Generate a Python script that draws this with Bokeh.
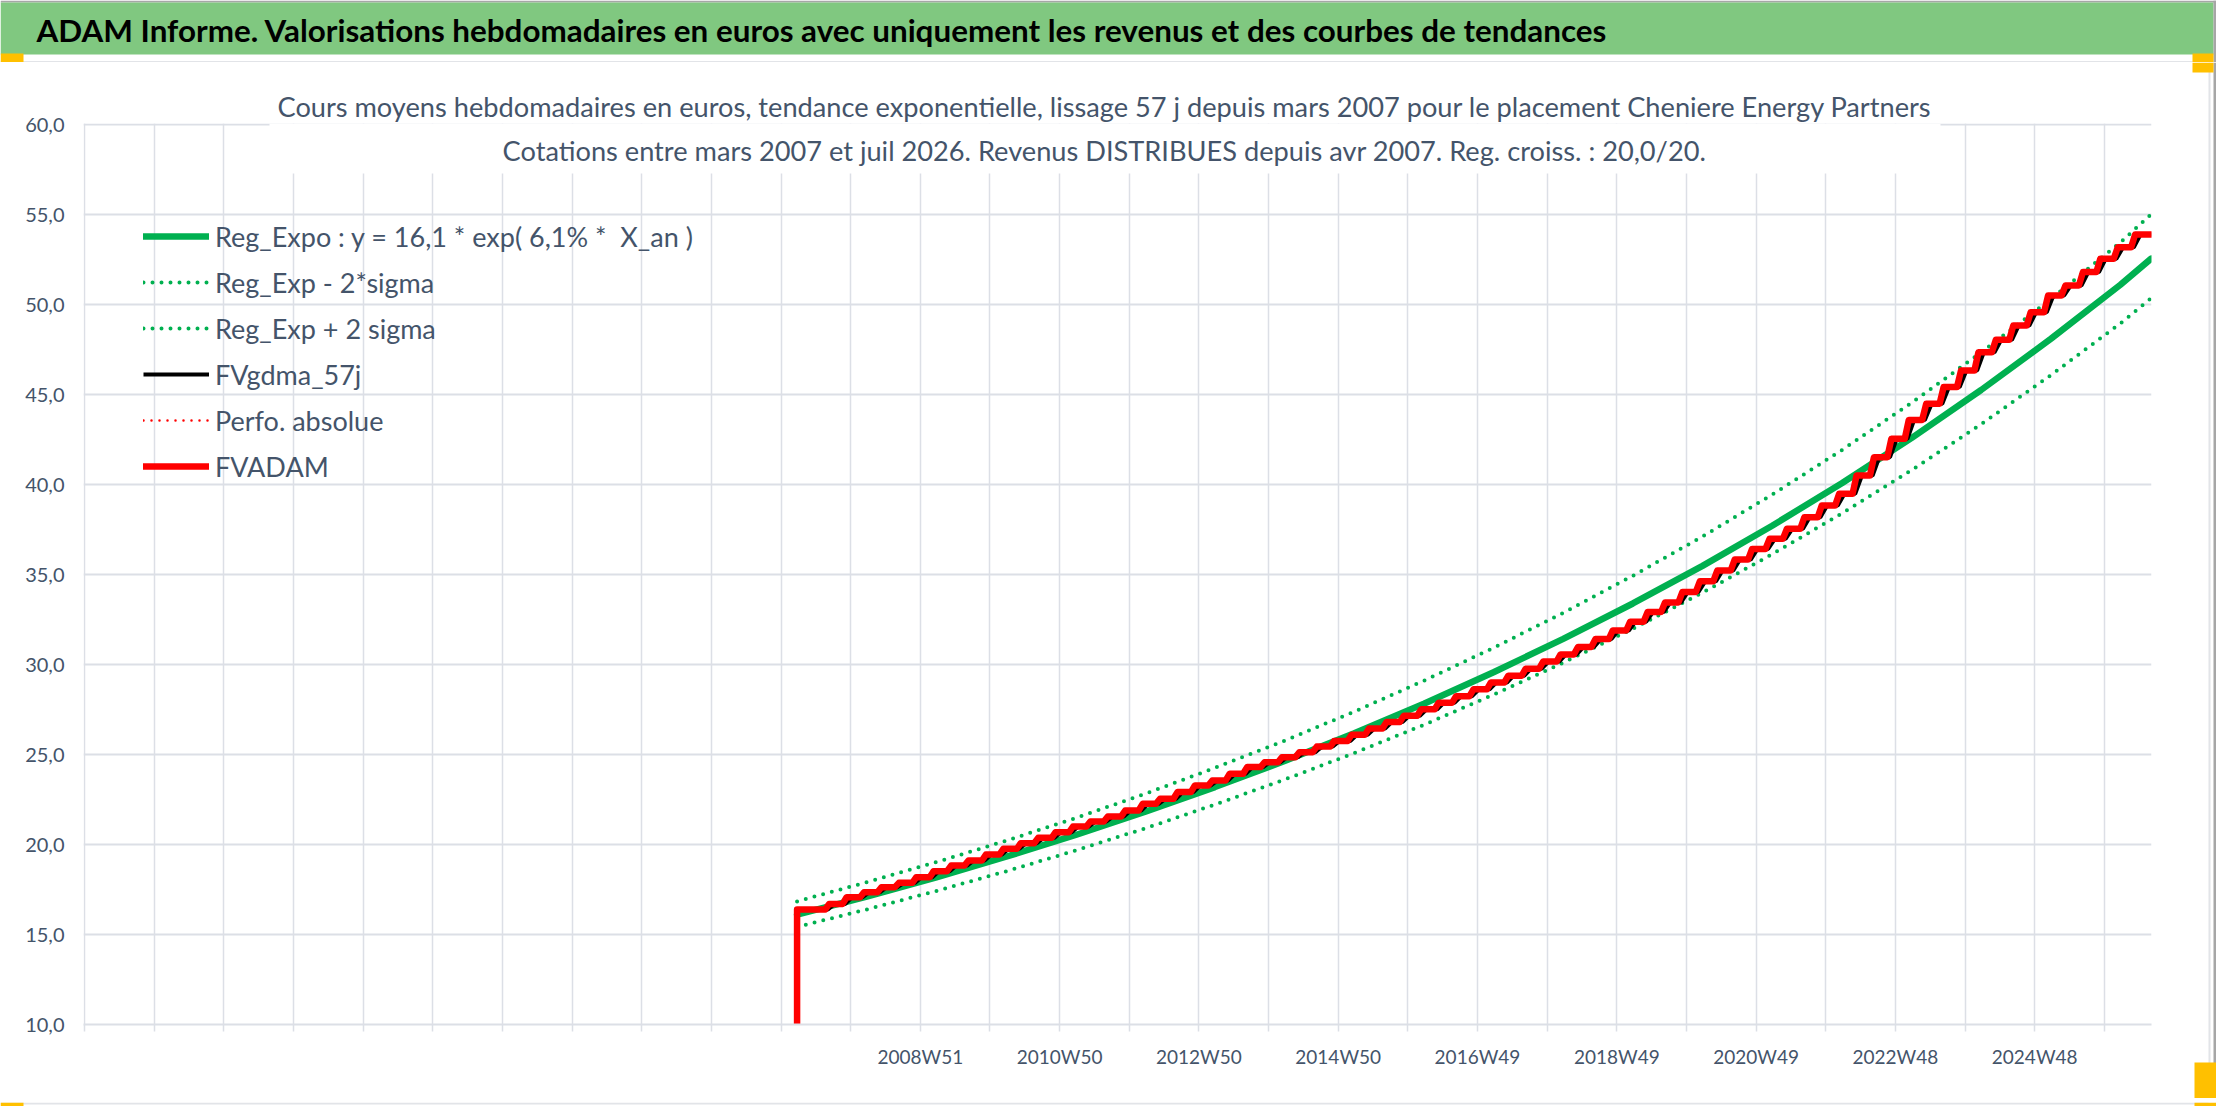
from bokeh.plotting import figure
from bokeh.models import (Range1d, FixedTicker, Legend, LegendItem, Label, Title,
                          ColumnDataSource)
from bokeh.layouts import column, row
from bokeh.embed import file_html
from bokeh.resources import INLINE
from bokeh.core.properties import value

# ---------------- data ----------------
banner_title = ("ADAM Informe. Valorisations hebdomadaires en euros avec uniquement "
                "les revenus et des courbes de tendances")
title_line1 = ("Cours moyens hebdomadaires en euros, tendance exponentielle, lissage 57 j "
               "depuis mars 2007 pour le placement Cheniere Energy Partners")
title_line2 = ("Cotations entre mars 2007 et juil 2026. Revenus DISTRIBUES depuis avr 2007. "
               "Reg. croiss. : 20,0/20.")

legend_labels = ["Reg_Expo : y = 16,1 * exp( 6,1% *  X_an )", "Reg_Exp - 2*sigma",
                 "Reg_Exp + 2 sigma", "FVgdma_57j", "Perfo. absolue", "FVADAM"]

# weekly category axis (index of week)
axis_start = -0.75
axis_weeks = 1543.2
grid_step_weeks = 52
xtick_weeks = [624, 728, 832, 936, 1040, 1144, 1248, 1352, 1456]
xtick_labels = ["2008W51", "2010W50", "2012W50", "2014W50", "2016W49",
                "2018W49", "2020W49", "2022W48", "2024W48"]
ytick_values = [10, 15, 20, 25, 30, 35, 40, 45, 50, 55, 60]
ytick_labels = ["10,0", "15,0", "20,0", "25,0", "30,0", "35,0",
                "40,0", "45,0", "50,0", "55,0", "60,0"]

# trend curves, read yearly
trend_weeks = [532, 584, 636, 688, 740, 792, 844, 896, 948, 1000, 1052,
               1104, 1156, 1208, 1260, 1312, 1364, 1416, 1468, 1520, 1543]
reg_expo = [16.10, 17.11, 18.18, 19.32, 20.53, 21.82, 23.19, 24.64, 26.18, 27.82, 29.57,
            31.42, 33.39, 35.48, 37.71, 40.07, 42.58, 45.25, 48.09, 51.10, 52.55]
reg_upper = [16.84, 17.90, 19.02, 20.21, 21.47, 22.82, 24.26, 25.77, 27.38, 29.10, 30.93,
             32.87, 34.93, 37.11, 39.44, 41.91, 44.54, 47.33, 50.30, 53.45, 55.02]
reg_lower = [15.42, 16.39, 17.42, 18.51, 19.67, 20.90, 22.22, 23.61, 25.08, 26.65, 28.33,
             30.10, 31.99, 33.99, 36.13, 38.39, 40.79, 43.35, 46.07, 48.95, 50.35]

# FVADAM : quarterly levels (distributions)
fv_start_week = 532
fv_first_step_week = 553
fv_step_weeks = 13
fv_end_week = 1543
fvadam_levels = [16.39, 16.70, 17.07, 17.35, 17.63, 17.87, 18.18, 18.52, 18.83, 19.11,
                 19.44, 19.76, 20.07, 20.37, 20.68, 21.00, 21.28, 21.56, 21.89, 22.26,
                 22.54, 22.91, 23.28, 23.56, 23.93, 24.30, 24.57, 24.85,
                 25.13, 25.44, 25.75, 26.10, 26.44, 26.80, 27.15, 27.51, 27.88, 28.24,
                 28.62, 29.00, 29.38, 29.77, 30.16, 30.56, 30.97, 31.41, 31.89, 32.38,
                 32.91, 33.45, 34.03, 34.62, 35.22, 35.83, 36.42, 36.98,
                 37.54, 38.18, 38.83, 39.48, 40.50, 41.52, 42.54, 43.59, 44.48, 45.41,
                 46.33, 47.35, 48.04, 48.83, 49.57, 50.50, 51.06, 51.80, 52.54, 53.18, 53.89]

# ---------------- style ----------------
FONT = "Lato"
TXT = "#44546A"
GRID = "#DCDFE6"
GREEN = "#00B050"
RED = "#FF0000"
BANNER = "#80C880"
YELLOW = "#FFC000"
PALE_YELLOW = "#E8E070"
EDGE = "#A6A6A6"
LIGHT = "#E2E4E8"

PAGE_W, PAGE_H = 2216, 1106
FRAME_L, FRAME_R, FRAME_T, FRAME_B = 83, 2151, 123, 1024
TOP_H = 62
BOTTOM_H = 8
RIGHT_W = 26
MAIN_W = PAGE_W - RIGHT_W
MAIN_H = PAGE_H - TOP_H - BOTTOM_H
Y_TOP = 10 + (FRAME_B - FRAME_T) / 18.0


def deco_fig(w, h, x0, x1, y0, y1, bg="white"):
    f = figure(width=w, height=h, x_range=Range1d(x0, x1), y_range=Range1d(y1, y0),
               x_axis_type=None, y_axis_type=None, output_backend="svg",
               toolbar_location=None, min_border=0, background_fill_color=bg,
               border_fill_color=bg, frame_align=False)
    f.grid.visible = False
    f.outline_line_color = None
    f.title.visible = False
    return f


def box(f, l, r, t, b, color):
    f.quad(left=[l], right=[r], top=[t], bottom=[b], fill_color=color, line_color=None)


# ---------------- staircases ----------------
red_x = [fv_start_week, fv_start_week]
red_y = [0.0, fvadam_levels[0]]
blk_x = [fv_start_week]
blk_y = [fvadam_levels[0]]
for i in range(1, len(fvadam_levels)):
    s = fv_first_step_week + fv_step_weeks * (i - 1)
    red_x += [s, s + 3]
    red_y += [fvadam_levels[i - 1], fvadam_levels[i]]
    blk_x += [s + 2, s + 7]
    blk_y += [fvadam_levels[i - 1], fvadam_levels[i]]
red_x.append(fv_end_week)
red_y.append(fvadam_levels[-1])
blk_x.append(fv_end_week)
blk_y.append(fvadam_levels[-1])

trend_src = ColumnDataSource(dict(x=trend_weeks, m=reg_expo, u=reg_upper, l=reg_lower))
red_src = ColumnDataSource(dict(x=red_x, y=red_y))
blk_src = ColumnDataSource(dict(x=blk_x, y=blk_y))

# ---------------- top strip : banner ----------------
top = deco_fig(PAGE_W, TOP_H, 0, PAGE_W, 0, TOP_H)
box(top, 0, PAGE_W, 0, 2, EDGE)
box(top, 0, 2213, 2, 54, BANNER)
box(top, 2213, PAGE_W, 0, TOP_H, EDGE)
box(top, 0, 2208, 60.5, 62, LIGHT)
box(top, 0, 23, 53, 62, YELLOW)
box(top, 2192, 2213, 53, 62, YELLOW)
top.text(x=[36], y=[29.5], text=[banner_title], text_font=value(FONT),
         text_font_style="bold", text_font_size="31.4px", text_color="black",
         text_baseline="middle", text_align="left")

# ---------------- main chart ----------------
p = figure(width=MAIN_W, height=MAIN_H, x_range=Range1d(axis_start, axis_weeks),
           y_range=Range1d(10, Y_TOP), output_backend="svg", toolbar_location=None,
           min_border_left=FRAME_L, min_border_right=MAIN_W - FRAME_R,
           min_border_top=FRAME_T - TOP_H, min_border_bottom=TOP_H + MAIN_H - FRAME_B,
           frame_align=False)
p.outline_line_color = None
p.background_fill_color = "white"
p.border_fill_color = "white"
p.title.visible = False

grid_weeks = list(range(0, int(axis_weeks), grid_step_weeks))
p.xgrid.ticker = FixedTicker(ticks=grid_weeks)
p.xgrid.grid_line_color = GRID
p.xgrid.grid_line_width = 1.5
p.ygrid.ticker = FixedTicker(ticks=ytick_values)
p.ygrid.grid_line_color = GRID
p.ygrid.grid_line_width = 2

xa = p.xaxis[0]
xa.ticker = FixedTicker(ticks=grid_weeks)
overrides = {w: "" for w in grid_weeks}
overrides.update(dict(zip(xtick_weeks, xtick_labels)))
xa.major_label_overrides = overrides
xa.axis_line_color = GRID
xa.axis_line_width = 2
xa.major_tick_line_color = GRID
xa.major_tick_line_width = 1.5
xa.major_tick_in = 0
xa.major_tick_out = 7
xa.minor_tick_line_color = None
xa.major_label_standoff = 13
xa.major_label_text_font = FONT
xa.major_label_text_font_size = "19px"
xa.major_label_text_color = TXT

ya = p.yaxis[0]
ya.ticker = FixedTicker(ticks=ytick_values)
ya.major_label_overrides = dict(zip(ytick_values, ytick_labels))
ya.axis_line_color = None
ya.major_tick_line_color = None
ya.minor_tick_line_color = None
ya.major_tick_in = 0
ya.major_tick_out = 0
ya.major_label_standoff = 19
ya.major_label_text_font = FONT
ya.major_label_text_font_size = "20px"
ya.major_label_text_color = TXT


# helpers: reference-pixel positions -> data coordinates for annotations
def wx(px):
    return axis_start + (px - FRAME_L) / (FRAME_R - FRAME_L) * (axis_weeks - axis_start)


def vy(py):
    return Y_TOP - (py - FRAME_T) / 18.0


# white box behind the chart title (hides the grid there, inside the frame)
p.quad(left=[wx(269)], right=[wx(1940)], bottom=[vy(173)], top=[Y_TOP],
       fill_color="white", line_color=None)

r_m = p.line("x", "m", source=trend_src, line_color=GREEN, line_width=6.5, line_cap="round")
r_l = p.line("x", "l", source=trend_src, line_color=GREEN, line_width=4, line_dash="0 9",
             line_cap="round")
r_u = p.line("x", "u", source=trend_src, line_color=GREEN, line_width=4, line_dash="0 9",
             line_cap="round")
r_k = p.line("x", "y", source=blk_src, line_color="black", line_width=4)
r_p = p.line("x", "y", source=red_src, line_color=RED, line_width=2.5, line_dash="0 8",
             line_cap="round")
r_f = p.line("x", "y", source=red_src, line_color=RED, line_width=6.5, line_cap="round",
             line_join="round")

# first title line: a real Title placed above the frame
p.add_layout(Title(text=title_line1, align="left", offset=277 - FRAME_L, standoff=1,
                   vertical_align="bottom", text_font=FONT, text_font_size="27.2px",
                   text_font_style="normal", text_color=TXT), "above")
# second title line sits inside the plot area, over the white box
p.add_layout(Label(x=wx(1104), y=vy(150), text=title_line2, text_font=FONT,
                   text_font_size="27.2px", text_color=TXT, text_align="center",
                   text_baseline="middle"))

legend = Legend(items=[LegendItem(label=legend_labels[0], renderers=[r_m]),
                       LegendItem(label=legend_labels[1], renderers=[r_l]),
                       LegendItem(label=legend_labels[2], renderers=[r_u]),
                       LegendItem(label=legend_labels[3], renderers=[r_k]),
                       LegendItem(label=legend_labels[4], renderers=[r_p]),
                       LegendItem(label=legend_labels[5], renderers=[r_f])],
                location=(60, 535), orientation="vertical",
                background_fill_alpha=0, border_line_color=None,
                padding=0, margin=0, spacing=0, glyph_width=66, glyph_height=46,
                label_height=46, label_standoff=6,
                label_text_font=FONT, label_text_font_size="27px",
                label_text_color=TXT)
p.add_layout(legend)

# ---------------- right strip ----------------
right = deco_fig(RIGHT_W, MAIN_H, MAIN_W, PAGE_W, TOP_H, TOP_H + MAIN_H)
box(right, 2208, 2210, TOP_H, TOP_H + MAIN_H, LIGHT)
box(right, 2213, PAGE_W, TOP_H, TOP_H + MAIN_H, EDGE)
box(right, 2192, 2213, TOP_H, 72, YELLOW)
box(right, 2194, PAGE_W, 1062, TOP_H + MAIN_H, YELLOW)

# ---------------- bottom strip ----------------
bottom = deco_fig(PAGE_W, BOTTOM_H, 0, PAGE_W, PAGE_H - BOTTOM_H, PAGE_H)
box(bottom, 0, 2208, 1098, 1100, LIGHT)
box(bottom, 0, PAGE_W, 1103.5, PAGE_H, EDGE)
box(bottom, 0, 23, 1098, 1105, YELLOW)
box(bottom, 884, 1029, 1103.5, PAGE_H, PALE_YELLOW)
box(bottom, 1316, 1471, 1103.5, PAGE_H, PALE_YELLOW)
box(bottom, 2194, PAGE_W, 1098, PAGE_H, YELLOW)

layout = column(top, row(p, right, spacing=0), bottom, spacing=0)
open("out.html", "w").write(file_html(layout, INLINE))
